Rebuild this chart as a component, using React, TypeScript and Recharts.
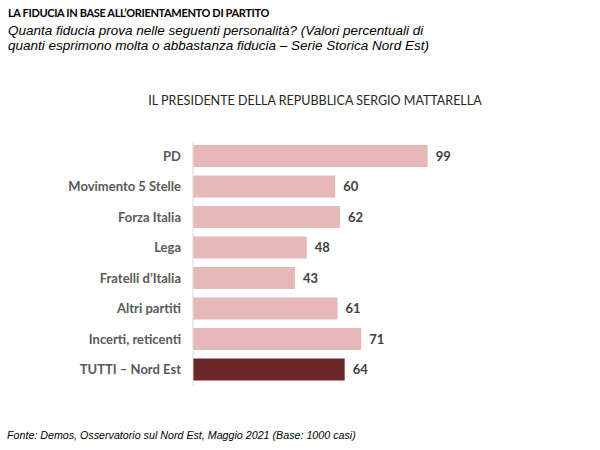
import { Bar, BarChart, Cell, LabelList, XAxis, YAxis } from 'recharts';

const categories = [
  'PD',
  'Movimento 5 Stelle',
  'Forza Italia',
  'Lega',
  'Fratelli d\u2019Italia',
  'Altri partiti',
  'Incerti, reticenti',
  'TUTTI \u2013 Nord Est',
];

const values = [99, 60, 62, 48, 43, 61, 71, 64];

const BAR_COLOR = '#e6b9b8';
const TOTAL_COLOR = '#6b2628'; // last bar = whole sample

const data = categories.map((name, i) => ({ name, value: values[i] }));

const LABEL_FONT = 'Lato, "Liberation Sans", sans-serif';

export default function App() {
  return (
    <div style={{ position: 'absolute', left: 0, top: 0, width: 600, height: 450, background: '#fff' }}>
      <div
        style={{
          position: 'absolute',
          left: 8,
          top: 6,
          fontFamily: LABEL_FONT,
          fontWeight: 700,
          fontSize: 11,
          color: '#000',
          letterSpacing: -0.35,
        }}
      >
        LA FIDUCIA IN BASE ALL’ORIENTAMENTO DI PARTITO
      </div>
      <div
        style={{
          position: 'absolute',
          left: 8,
          top: 23,
          fontFamily: '"Liberation Sans", Arial, sans-serif',
          fontStyle: 'italic',
          fontSize: 13.5,
          lineHeight: '15px',
          color: '#000',
        }}
      >
        Quanta fiducia prova nelle seguenti personalità? (Valori percentuali di
        <br />
        quanti esprimono molta o abbastanza fiducia – Serie Storica Nord Est)
      </div>
      <div
        style={{
          position: 'absolute',
          left: 0,
          width: 630,
          top: 93,
          textAlign: 'center',
          fontFamily: LABEL_FONT,
          fontSize: 12.5,
          color: '#262626',
        }}
      >
        IL PRESIDENTE DELLA REPUBBLICA SERGIO MATTARELLA
      </div>

      <div style={{ position: 'absolute', left: 0, top: 0 }}>
        <BarChart
          width={600}
          height={450}
          layout="vertical"
          data={data}
          margin={{ top: 141, right: 170, bottom: 65, left: 0 }}
          barSize={22}
        >
          <XAxis type="number" domain={[0, 100]} hide />
          <YAxis
            type="category"
            dataKey="name"
            width={193}
            tickLine={false}
            tickMargin={6}
            axisLine={{ stroke: '#d9d9d9' }}
            tick={{ fill: '#595959', fontSize: 13, fontFamily: LABEL_FONT, fontWeight: 700 }}
            interval={0}
          />
          <Bar dataKey="value" isAnimationActive={false}>
            {data.map((entry, index) => (
              <Cell key={`cell-${index}`} fill={index === data.length - 1 ? TOTAL_COLOR : BAR_COLOR} />
            ))}
            <LabelList
              dataKey="value"
              position="right"
              offset={8}
              fill="#404040"
              fontSize={13}
              fontWeight={700}
              fontFamily={LABEL_FONT}
            />
          </Bar>
        </BarChart>
      </div>

      <div
        style={{
          position: 'absolute',
          left: 7,
          top: 429,
          fontFamily: '"Liberation Sans", Arial, sans-serif',
          fontStyle: 'italic',
          fontSize: 10.7,
          color: '#000',
        }}
      >
        Fonte: Demos, Osservatorio sul Nord Est, Maggio 2021 (Base: 1000 casi)
      </div>
    </div>
  );
}
